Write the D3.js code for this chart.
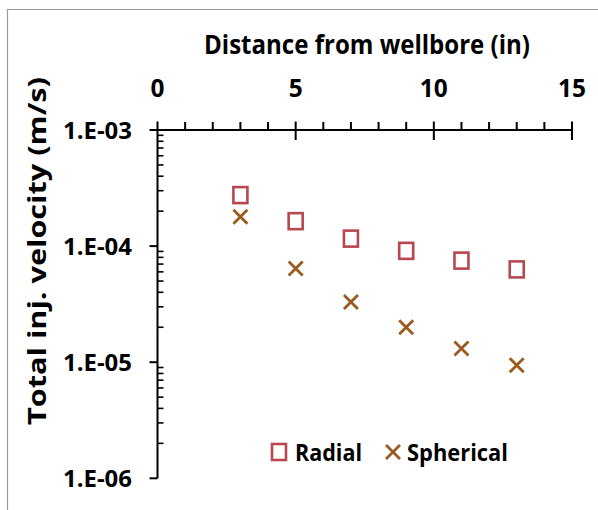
<!DOCTYPE html>
<html><head><meta charset="utf-8">
<script src="https://cdn.jsdelivr.net/npm/d3@7"></script>
<style>
html,body{margin:0;padding:0;background:#fff;}
svg{display:block;}
text{font-family:"Open Sans", sans-serif;font-weight:bold;fill:#000;}
</style></head>
<body>
<script>
const distances = [3, 5, 7, 9, 11, 13];
const radial = [2.75e-4, 1.64e-4, 1.16e-4, 9.1e-5, 7.5e-5, 6.3e-5];
const spherical = [1.79e-4, 6.4e-5, 3.3e-5, 2.0e-5, 1.31e-5, 9.4e-6];
const xTicks = [0, 5, 10, 15];
const yTicks = [1e-6, 1e-5, 1e-4, 1e-3];
const yTickLabels = ["1.E-06", "1.E-05", "1.E-04", "1.E-03"];
const seriesNames = ["Radial", "Spherical"];

const W = 598, H = 510;
const svg = d3.select("body").append("svg").attr("width", W).attr("height", H);

// outer frame
svg.append("path").attr("d", `M7.5,${H} L7.5,9.5 L${W},9.5`).attr("fill","none").attr("stroke","#9a9a9a").attr("stroke-width",1.2);

const x = d3.scaleLinear().domain([0, 15]).range([157.5, 572]);
const y = d3.scaleLog().domain([1e-6, 1e-3]).range([478.3, 130]);
const axisColor = "#000";

// x axis (top)
const g = svg.append("g");
g.append("line").attr("x1", x(0) - 7).attr("x2", x(15)).attr("y1", 130).attr("y2", 130).attr("stroke", axisColor).attr("stroke-width", 2);
d3.range(0, 16, 1).forEach(v => {
  const major = v % 5 === 0;
  if (v === 0) return;
  g.append("line").attr("x1", x(v)).attr("x2", x(v)).attr("y1", major ? 121.5 : 122).attr("y2", major ? 140 : 130)
    .attr("stroke", axisColor).attr("stroke-width", 2);
});
g.append("line").attr("x1", x(0)).attr("x2", x(0)).attr("y1", 121.5).attr("y2", 130).attr("stroke", axisColor).attr("stroke-width", 2);
xTicks.forEach(v => {
  g.append("text").attr("x", x(v)).attr("y", 97).attr("text-anchor", "middle").attr("font-size", 24.5)
    .attr("textLength", v >= 10 ? 28 : 14).attr("lengthAdjust", "spacingAndGlyphs").text(v);
});
svg.append("text").attr("x", 204).attr("y", 54).attr("font-size", 27)
  .attr("textLength", 326).attr("lengthAdjust", "spacingAndGlyphs").text("Distance from wellbore (in)");

// y axis (left)
g.append("line").attr("x1", x(0)).attr("x2", x(0)).attr("y1", 130).attr("y2", y(1e-6)).attr("stroke", axisColor).attr("stroke-width", 2);
yTicks.forEach((v, i) => {
  g.append("line").attr("x1", x(0) - 8).attr("x2", x(0)).attr("y1", y(v)).attr("y2", y(v)).attr("stroke", axisColor).attr("stroke-width", 2);
  g.append("text").attr("x", 63).attr("y", y(v) + 8.5).attr("font-size", 24)
    .attr("textLength", 69).attr("lengthAdjust", "spacingAndGlyphs").text(yTickLabels[i]);
});
[1e-6, 1e-5, 1e-4].forEach(dec => {
  for (let k = 2; k <= 9; k++) {
    const v = dec * k;
    g.append("line").attr("x1", x(0)).attr("x2", x(0) + 6).attr("y1", y(v)).attr("y2", y(v)).attr("stroke", axisColor).attr("stroke-width", 1.6);
  }
});
svg.append("text").attr("transform", `translate(46,425) rotate(-90)`).attr("font-size", 25)
  .attr("textLength", 348).attr("lengthAdjust", "spacingAndGlyphs").text("Total inj. velocity (m/s)");

const sqColor = "#B8474F", crColor = "#9A5A20";
function square(sel, cx, cy) {
  sel.append("rect").attr("x", cx - 7).attr("y", cy - 8).attr("width", 14).attr("height", 16)
    .attr("fill", "none").attr("stroke", sqColor).attr("stroke-width", 2.6);
}
function cross(sel, cx, cy) {
  const s = 7;
  sel.append("path").attr("d", `M${cx - s},${cy - s}L${cx + s},${cy + s}M${cx - s},${cy + s}L${cx + s},${cy - s}`)
    .attr("stroke", crColor).attr("stroke-width", 2.8).attr("fill", "none");
}
const pts = svg.append("g");
distances.forEach((d, i) => square(pts, x(d), y(radial[i])));
distances.forEach((d, i) => cross(pts, x(d), y(spherical[i])));

// legend
const lg = svg.append("g");
square(lg, 279, 452);
lg.append("text").attr("x", 295).attr("y", 461).attr("font-size", 24)
  .attr("textLength", 67).attr("lengthAdjust", "spacingAndGlyphs").text(seriesNames[0]);
cross(lg, 393, 452);
lg.append("text").attr("x", 407).attr("y", 461).attr("font-size", 24)
  .attr("textLength", 101).attr("lengthAdjust", "spacingAndGlyphs").text(seriesNames[1]);
</script>
</body></html>
